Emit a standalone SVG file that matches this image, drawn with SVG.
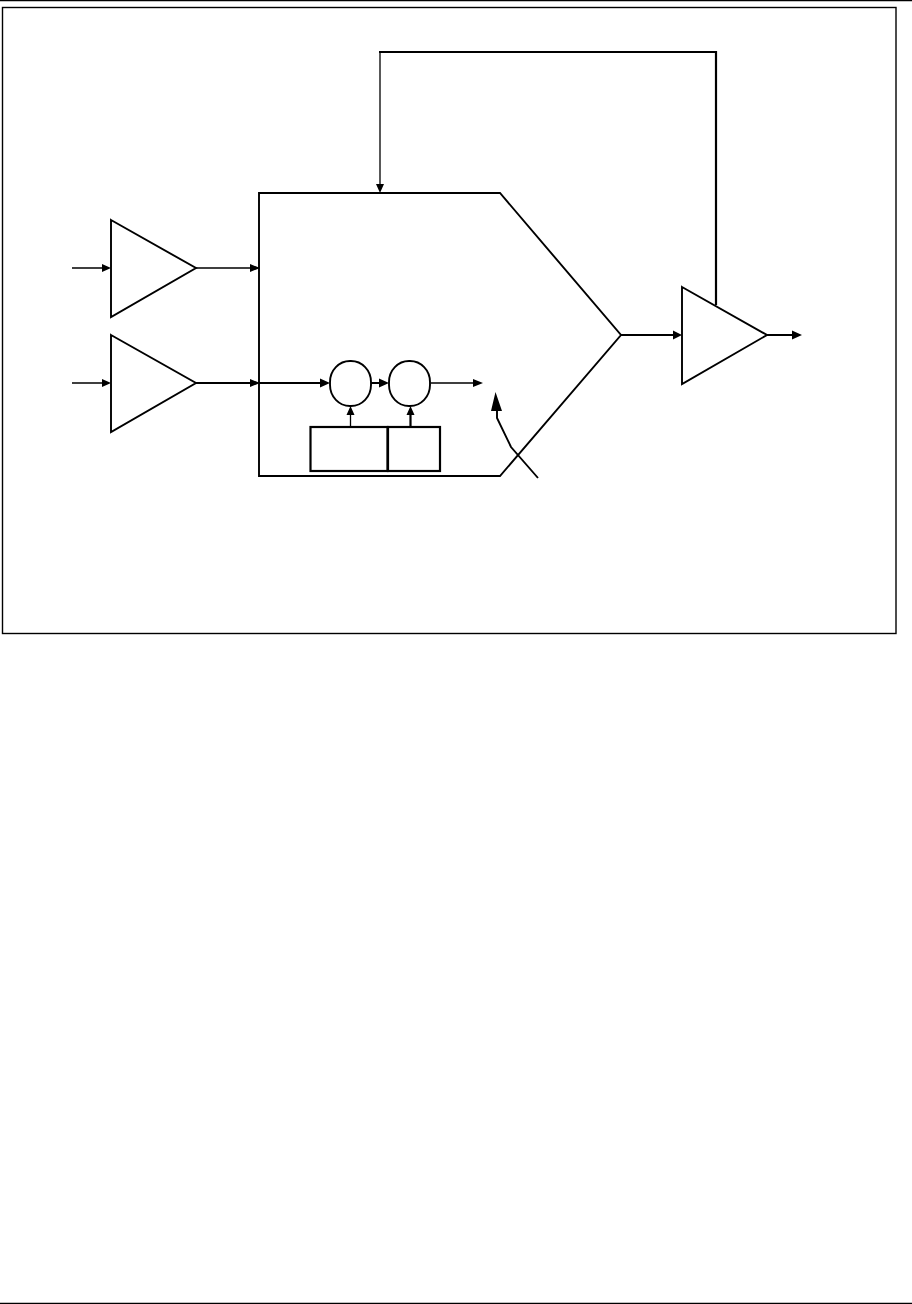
<svg xmlns="http://www.w3.org/2000/svg" width="912" height="1304" viewBox="0 0 912 1304">
<style>
.s{fill:none;stroke:#000;stroke-width:1.9}
.t{fill:none;stroke:#000;stroke-width:1.3}
.b{fill:none;stroke:#000;stroke-width:2.2}
.a{fill:#000;stroke:none}
</style>
<rect width="912" height="1304" fill="#fff"/>
<g id="page-rules">
<line x1="0" y1="0.5" x2="912" y2="0.5" stroke="#000" stroke-width="1.4"/>
<line x1="0" y1="1303.5" x2="912" y2="1303.5" stroke="#000" stroke-width="1.4"/>
<rect x="2.500" y="7.500" width="893.500" height="626" fill="none" stroke="#000" stroke-width="1.4"/>
</g>
<g id="connectors">
<path class="t" d="M72 268H105M196 268H253M72 383H105M431 383H476M350.500 426V412M380 52V186"/>
<path class="s" d="M196 383H253"/>
<path class="b" d="M259 383H324M371 383H384M410.500 426V412M621 335H676M716 305V52H379M767 335H796"/>
<path class="s" d="M538 478L511 447L497 418V408"/>
<path class="a" d="M111 268L102 264V272ZM260 268L250 264V272ZM111 383L102 379V387ZM260 383L250 379V387ZM330 383L320 378.500V387.500ZM389 383L379 378.500V387.500ZM483 383L473 379V387ZM350.500 406L346.500 415H354.500ZM410.500 406L406.500 415H414.500ZM380 193L376 184H384ZM682 335L673 330.500V339.500ZM802 335L792 330.500V339.500ZM495.500 392L491 411H502Z"/>
</g>
<g id="amp-1"><path class="s" d="M111 220L196 268L111 317Z"/></g>
<g id="amp-2"><path class="s" d="M111 335L196 383L111 432Z"/></g>
<g id="amp-3"><path class="s" d="M682 287L767 335L682 384Z"/></g>
<g id="mixer"><path class="s" d="M259 193H500L621 335L500 476H259Z"/></g>
<g id="circle-1"><rect class="s" x="330" y="361" width="41" height="45" rx="20" ry="21"/></g>
<g id="circle-2"><rect class="s" x="389" y="361" width="41" height="45" rx="20" ry="21"/></g>
<g id="box-1"><rect class="b" x="310.500" y="427" width="77" height="44"/></g>
<g id="box-2"><rect class="b" x="388" y="427" width="52" height="44"/></g>
</svg>
